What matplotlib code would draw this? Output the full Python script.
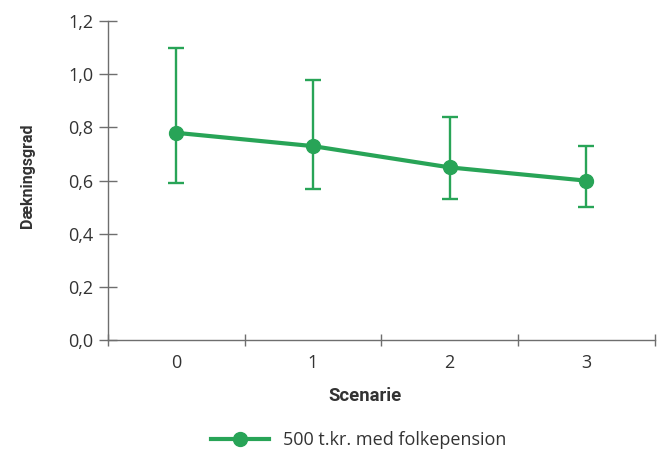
import matplotlib
matplotlib.use("Agg")
import matplotlib.pyplot as plt
from matplotlib.lines import Line2D
from matplotlib.ticker import FuncFormatter, FixedLocator

# data
scenarier = [0, 1, 2, 3]
daekningsgrad = [0.78, 0.73, 0.65, 0.60]
oevre = [1.10, 0.98, 0.84, 0.73]
nedre = [0.59, 0.57, 0.53, 0.50]
serie_navn = "500 t.kr. med folkepension"

groen = "#28a457"
graa = "#6e6e6e"
tekst = "#333333"

plt.rcParams["font.family"] = ["Open Sans", "DejaVu Sans"]

fig = plt.figure(figsize=(6.66, 4.5), dpi=100)
ax = fig.add_axes([0.162, 0.244, 0.821, 0.709])

yerr = [[v - lo for v, lo in zip(daekningsgrad, nedre)],
        [hi - v for v, hi in zip(daekningsgrad, oevre)]]

ax.errorbar(scenarier, daekningsgrad, yerr=yerr, color=groen, lw=3,
            marker="o", ms=10, elinewidth=1.7, capsize=6, capthick=1.7)

ax.set_xlim(-0.5, 3.5)
ax.set_ylim(0, 1.2)
ax.set_yticks([0, 0.2, 0.4, 0.6, 0.8, 1.0, 1.2])
ax.yaxis.set_major_formatter(FuncFormatter(lambda v, p: f"{v:.1f}".replace(".", ",")))

# ticks at category boundaries, labels at centres
ax.xaxis.set_major_locator(FixedLocator([-0.5, 0.5, 1.5, 2.5, 3.5]))
ax.xaxis.set_major_formatter(FuncFormatter(lambda v, p: ""))
ax.xaxis.set_minor_locator(FixedLocator(scenarier))
ax.xaxis.set_minor_formatter(FuncFormatter(lambda v, p: f"{int(round(v))}"))

for s in ["top", "right"]:
    ax.spines[s].set_visible(False)
for s in ["left", "bottom"]:
    ax.spines[s].set_color(graa)
    ax.spines[s].set_linewidth(1.0)

ax.tick_params(axis="y", direction="inout", length=13, width=1, color=graa,
               labelsize=13, labelcolor=tekst, pad=4)
ax.tick_params(axis="x", which="major", direction="inout", length=8, width=1,
               color=graa)
ax.tick_params(axis="x", which="minor", length=0, labelsize=13,
               labelcolor=tekst, pad=10)

ax.set_ylabel("Dækningsgrad", family=["Roboto", "DejaVu Sans"],
              fontweight="bold", fontsize=11.5, color=tekst)
ax.yaxis.set_label_coords((28 - 108) / 547, (340 - 176) / 319)
ax.set_xlabel("Scenarie", family=["Roboto", "DejaVu Sans"],
              fontweight="bold", fontsize=13.3, color=tekst)
ax.xaxis.set_label_coords((365 - 108) / 547, -(396 - 340) / 319)
ax.xaxis.label.set_va("center")
ax.yaxis.label.set_va("center")

handle = Line2D([], [], color=groen, lw=3, marker="o", ms=10)
fig.legend([handle], [serie_navn], loc="center",
           bbox_to_anchor=(359 / 666, 1 - 440 / 450), frameon=False,
           fontsize=13, labelcolor=tekst, handlelength=3.2)

fig.savefig("out.png", dpi=100)
